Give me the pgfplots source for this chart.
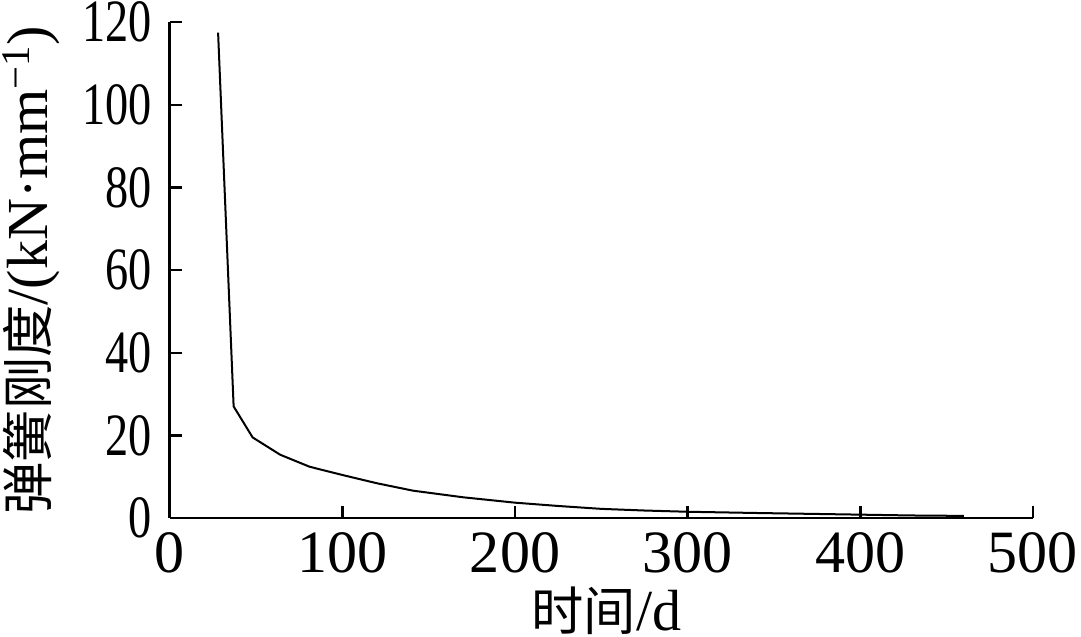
\documentclass[border=0pt]{standalone}
\usepackage{fontspec}
\setmainfont{Liberation Serif}
\newfontfamily\cjk[Scale=0.9]{Noto Sans CJK SC}
\usepackage{pgfplots}
\pgfplotsset{compat=1.18}

\begin{document}
\begin{tikzpicture}
  \begin{axis}[
    scale only axis,
    width=431pt,
    height=247.5pt,
    xmin=0, xmax=500,
    ymin=0, ymax=120,
    axis x line*=bottom,
    axis y line*=left,
    axis line style={line width=1.4pt},
    xtick={0,100,200,300,400,500},
    ytick={0,20,40,60,80,100,120},
    tick align=inside,
    major tick length=6pt,
    tick style={line width=1.2pt, black},
    /pgf/number format/assume math mode=true,
    ticklabel style={font=\fontsize{30}{32}\selectfont, inner sep=0pt},
    xticklabel style={yshift=-7pt},
    yticklabel style={xshift=-9pt, xscale=0.77},
    xlabel={{\cjk 时间}/d},
    ylabel={{\cjk 弹簧刚度}/(kN·mm\textsuperscript{−1})},
    label style={font=\fontsize{29}{32}\selectfont, inner sep=0pt},
    xlabel style={at={(axis description cs:0.506,-0.188)}, anchor=center},
    ylabel style={at={(axis description cs:-0.160,0.5)}, anchor=center},
  ]
    \addplot[black, line width=1pt, mark=none] coordinates {
      (28,117.5)(37,27)(48,19.5)(64,15.3)(81,12.4)(101,10.3)(120,8.4)
      (141,6.6)(170,5.0)(200,3.7)(225,2.9)(250,2.2)(275,1.8)(300,1.5)
      (340,1.2)(400,0.8)(430,0.6)(460,0.5)
    };
  \end{axis}
  % a little room so that no glyph touches the page edge
  \path ([shift={(-1.5pt,-0.5pt)}]current bounding box.south west)
        ([shift={(1.5pt,1pt)}]current bounding box.north east);
\end{tikzpicture}
\end{document}
